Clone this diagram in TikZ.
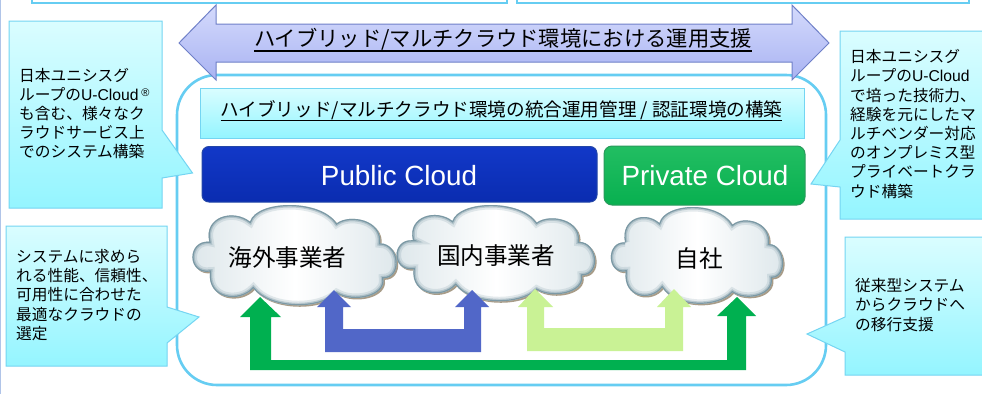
\documentclass[tikz,border=0pt]{standalone}
\usepackage{fontspec}
\setmainfont{Liberation Sans}
\newfontfamily\cjk{Noto Sans CJK JP}
\definecolor{rimblue}{HTML}{66CDF2}
\definecolor{calloutedge}{HTML}{74D5F2}
\definecolor{calloutTop}{HTML}{DAFDFF}
\definecolor{calloutBot}{HTML}{94F5FF}
\definecolor{arrowTop}{HTML}{D4DAFC}
\definecolor{arrowBot}{HTML}{A9B3F2}
\definecolor{arrowEdge}{HTML}{6F80C8}
\definecolor{pubTop}{HTML}{1238C8}
\definecolor{pubBot}{HTML}{0A2CB0}
\definecolor{pubEdge}{HTML}{2346A8}
\definecolor{privTop}{HTML}{22BE62}
\definecolor{privBot}{HTML}{08B050}
\definecolor{privEdge}{HTML}{2A9A5C}
\definecolor{flowGreen}{HTML}{00B050}
\definecolor{flowBlue}{HTML}{5167C8}
\definecolor{flowLight}{HTML}{C9F295}
\definecolor{cloudEdge}{HTML}{6F8F9C}
\definecolor{cloudShadow}{HTML}{A89C88}
\definecolor{cloudSide}{HTML}{DCE6EA}
\definecolor{pageEdge}{HTML}{B0C4E8}
\newcommand{\ulx}[3]{\leavevmode\setbox0\hbox{#3}\rlap{\copy0}\rule[-#1]{\wd0}{#2}}
\newcommand{\cloudshape}{(628,125) .. controls (610,50) and (700,25) .. (750,65)
 .. controls (770,0) and (960,-5) .. (1010,70)
 .. controls (1050,40) and (1150,60) .. (1140,130)
 .. controls (1200,130) and (1210,235) .. (1150,235)
 .. controls (1160,290) and (1060,310) .. (1010,280)
 .. controls (960,330) and (810,330) .. (760,265)
 .. controls (720,310) and (620,300) .. (630,215)
 .. controls (560,225) and (560,120) .. cycle}
\newcommand{\cloudat}[4]{%
 \begin{scope}[shift={(#1,#2)},xscale=#3,yscale=#4,shift={(-585,-15)}]
  \fill[cloudShadow,transform canvas={shift={(1.5pt,-1.5pt)}}] \cloudshape;
  \begin{scope}
   \clip \cloudshape;
   \path[cloudbody] \cloudshape;
   \draw[cloudEdge,line width=9pt,opacity=.18] \cloudshape;
   \draw[cloudEdge,line width=5pt,opacity=.35] \cloudshape;
   \draw[cloudEdge,line width=2.4pt,opacity=.8] \cloudshape;
  \end{scope}
 \end{scope}}
\tikzset{
 calloutbox/.style={draw=calloutedge,line width=1pt,top color=calloutTop,bottom color=calloutBot},
 calloutlabel/.style={anchor=west,align=left,inner sep=0pt,font=\fontsize{15.7}{19.2}\selectfont\cjk},
 rim/.style={draw=rimblue,line width=2.6pt},
 cloudbody/.style={left color=cloudSide,right color=cloudSide,middle color=white},
 cloudlabel/.style={inner sep=0pt,font=\fontsize{23.6}{26}\selectfont\cjk},
 cloudbar/.style={inner sep=0pt,font=\fontsize{27.8}{30}\selectfont,text=white}
}
\begin{document}
\begin{tikzpicture}[x=1pt,y=-1pt]
\clip (0,0) rectangle (982,394);
\fill[white] (0,0) rectangle (982,394);
\fill[pageEdge] (0,0) rectangle (1.2,394);
% top boxes
\draw[rim,line width=2pt,fill=white] (32,-8) rectangle (507,3);
\draw[rim,line width=2pt,fill=white] (517,-8) rectangle (969,3);
% main frame
\draw[rim,fill=white,rounded corners=40pt] (177,75) rectangle (826,385);
% band
\path[draw=calloutedge,line width=1pt,top color=calloutTop,bottom color=calloutBot] (200,88) rectangle (804,138);
\node[inner sep=0pt,font=\fontsize{18.6}{22}\selectfont\cjk] (bandtext) at (501.5,111) {\ulx{4.5pt}{1.1pt}{ハイブリッド/マルチクラウド環境の統合運用管理 / 認証環境の構築}};
% double arrow
\path[draw=arrowEdge,line width=1pt,top color=arrowTop,bottom color=arrowBot]
 (179,43) -- (216,5) -- (216,24) -- (792,24) -- (792,5) -- (829,43) -- (792,80) -- (792,62) -- (216,62) -- (216,80) -- cycle;
\node[inner sep=0pt,font=\fontsize{21.3}{24}\selectfont\cjk] (arrowtext) at (503,40) {\ulx{5pt}{1.8pt}{ハイブリッド/マルチクラウド環境における運用支援}};
% cloud bars
\path[draw=pubEdge,line width=1pt,top color=pubTop,bottom color=pubBot,rounded corners=7pt] (202,146.5) rectangle (597,202);
\node[cloudbar] (public) at (399,176) {Public Cloud};
\path[draw=privEdge,line width=1pt,top color=privTop,bottom color=privBot,rounded corners=8pt] (604,146) rectangle (805,205);
\node[cloudbar] (private) at (705,176) {Private Cloud};
% clouds
\cloudat{195}{205}{.3333}{.3333}
\cloudat{399}{205}{.324}{.32}
\cloudat{613}{207}{.281}{.322}
\node[cloudlabel] (overseas) at (287.5,258) {海外事業者};
\node[cloudlabel] (domestic) at (496,256) {国内事業者};
\node[cloudlabel] (own) at (699.5,259) {自社};
% flow arrows
\fill[flowGreen] (260,297) -- (281,317) -- (271,317) -- (271,360) -- (727,360) -- (727,316) -- (717,316) -- (737,297) -- (756,316) -- (746,316) -- (746,370) -- (250,370) -- (250,317) -- (240,317) -- cycle;
\fill[flowBlue] (334,290) -- (351,307) -- (343,307) -- (343,329) -- (464,329) -- (464,307) -- (455,307) -- (472,290) -- (489,307) -- (481,307) -- (481,352) -- (325,352) -- (325,307) -- (317,307) -- cycle;
\fill[flowLight] (535,289) -- (553,307) -- (544,307) -- (544,328) -- (665,328) -- (665,307) -- (657,307) -- (674,289) -- (691,307) -- (683,307) -- (683,351) -- (527,351) -- (527,307) -- (518,307) -- cycle;
% callouts
\path[calloutbox] (9,21) -- (162,21) -- (162,130) -- (192.5,173) -- (162,178) -- (162,208) -- (9,208) -- cycle;
\node[calloutlabel] (noteA) at (19,113.5) {日本ユニシスグ\\ループの{\fontspec{Liberation Sans}U-Cloud}\,\raisebox{.5ex}{\fontsize{11}{11}\selectfont\fontspec{Liberation Sans}®}\\も含む、様々なク\\ラウドサービス上\\でのシステム構築};
\path[calloutbox] (985,31) -- (840,31) -- (840,140) -- (811,184) -- (840,187) -- (840,219) -- (985,219) -- cycle;
\node[calloutlabel] (noteB) at (850,124) {日本ユニシスグ\\ループの{\fontspec{Liberation Sans}U-Cloud}\\で培った技術力、\\経験を元にしたマ\\ルチベンダー対応\\のオンプレミス型\\プライベートクラ\\ウド構築};
\path[calloutbox] (6,226) -- (167,226) -- (167,307) -- (199,317) -- (167,343) -- (167,366) -- (6,366) -- cycle;
\node[calloutlabel] (noteC) at (16,295) {システムに求めら\\れる性能、信頼性、\\可用性に合わせた\\最適なクラウドの\\選定};
\path[calloutbox] (985,237) -- (845,237) -- (845,317) -- (807,334) -- (845,352) -- (845,375) -- (985,375) -- cycle;
\node[calloutlabel] (noteD) at (855,305) {従来型システム\\からクラウドへ\\の移行支援};
\end{tikzpicture}
\end{document}
